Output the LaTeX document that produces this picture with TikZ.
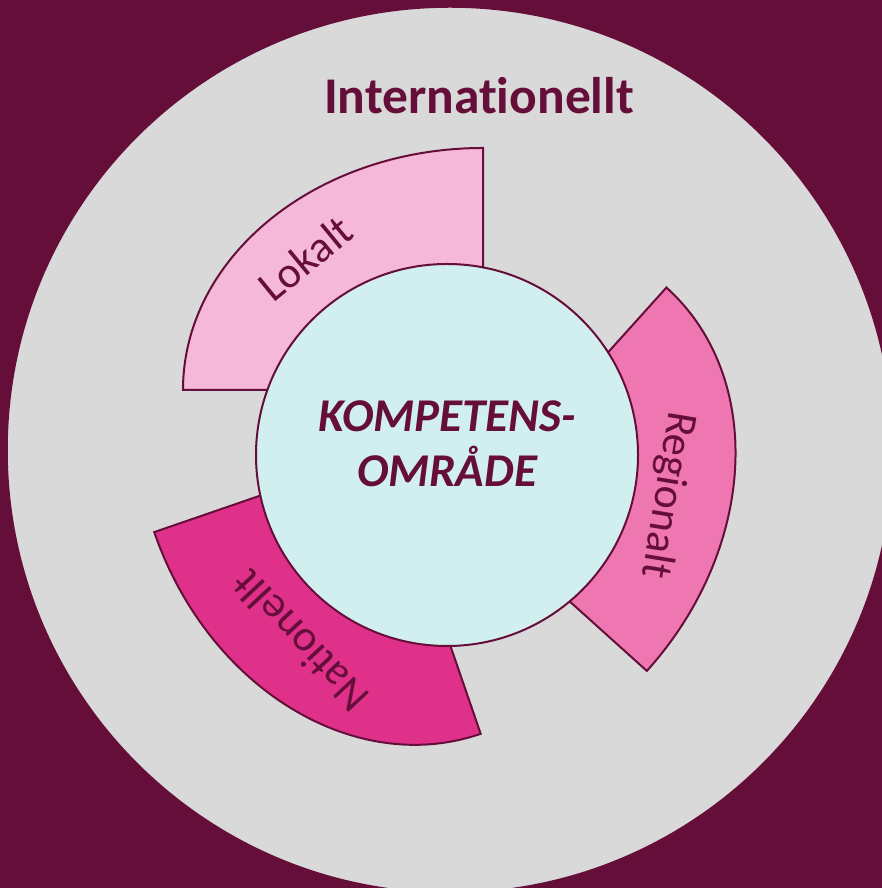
\documentclass[tikz,border=0pt]{standalone}
\usepackage{fontspec}
\setmainfont[Ligatures=NoCommon]{Carlito}
\usepackage{tikz}

\definecolor{maroon}{HTML}{660E3A}
\definecolor{ringgray}{HTML}{D9D9D9}
\definecolor{corecyan}{HTML}{D2EFEF}
\definecolor{lokalpink}{HTML}{F5B8D8}
\definecolor{regionpink}{HTML}{EE77B1}
\definecolor{nationpink}{HTML}{E0318A}

\tikzstyle{ring} = [circle, inner sep=0pt, minimum size=886pt, draw=maroon, line width=1.5pt, fill=ringgray]
\tikzstyle{core} = [circle, inner sep=0pt, minimum size=382pt, draw=maroon, line width=2pt, fill=corecyan]
\tikzstyle{sector} = [draw=maroon, line width=2pt, line join=miter]
\tikzstyle{lbl} = [text=maroon, inner sep=0pt, anchor=base, font=\fontsize{44}{50}\selectfont]
\tikzstyle{title} = [text=maroon, inner sep=0pt, anchor=base, font=\fontsize{51.5}{60}\selectfont\bfseries]
\tikzstyle{coretext} = [text=maroon, inner sep=0pt, anchor=base, font=\fontsize{47}{55}\selectfont\bfseries\itshape]

\begin{document}
\begin{tikzpicture}[x=1pt, y=1pt]
\fill[maroon] (0,0) rectangle (882,888);
\useasboundingbox (0,0) rectangle (882,888);

\node (world) [ring] at (450,438) {};
\node (intl) [title] at (479,774) {Internationellt};

% sectors (elliptic quarter arcs), tips hidden under the core
\begin{scope}[shift={(483,498)}]
\draw [sector, fill=lokalpink] (0,0) -- (180:300 and 242) arc[start angle=180, end angle=90, x radius=300, y radius=242] -- cycle;
\end{scope}
\begin{scope}[shift={(467,379)}, rotate=-132]
\draw [sector, fill=regionpink] (0,0) -- (180:298 and 242) arc[start angle=180, end angle=90, x radius=298, y radius=242] -- cycle;
\end{scope}
\begin{scope}[shift={(384,435)}, rotate=109]
\draw [sector, fill=nationpink] (0,0) -- (180:297 and 243) arc[start angle=180, end angle=90, x radius=297, y radius=243] -- cycle;
\end{scope}

\node (core) [core] at (447,433) {};
\node (komp) [coretext] at (447,456) {KOMPETENS-};
\node (omr) [coretext] at (447,401) {OMRÅDE};

\node (lokalt) [lbl, rotate=39.4] at (315,618) {Lokalt};
\node (regionalt) [lbl, rotate=-99.3] at (656,395) {Regionalt};
\node (nationellt) [lbl, rotate=133] at (311,257) {Nationellt};
\end{tikzpicture}
\end{document}
